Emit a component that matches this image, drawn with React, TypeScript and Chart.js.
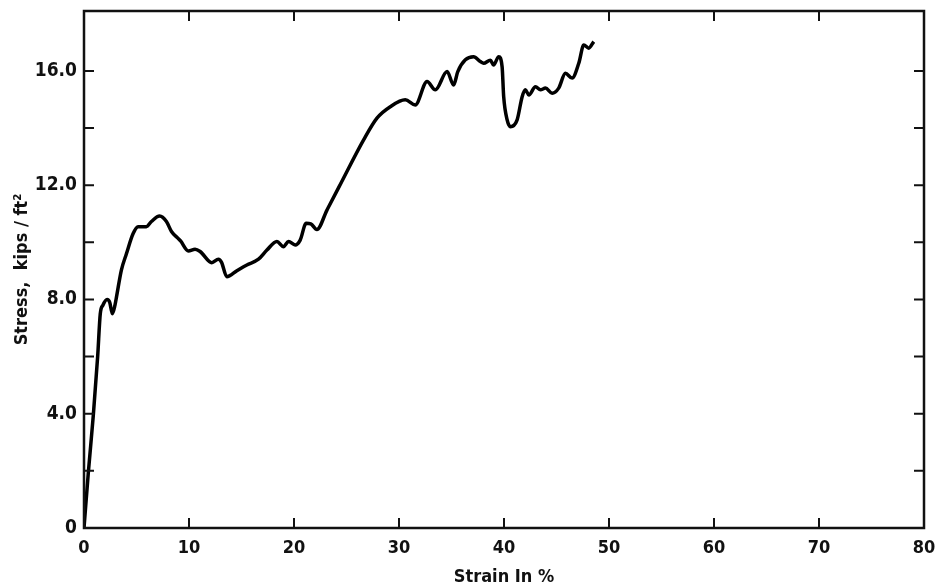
import React, { useEffect, useRef } from "react";
import { Chart, registerables } from "chart.js";

Chart.register(...registerables);

const strain = [0, 0.41, 0.89, 1.3, 1.55, 1.8, 2.2, 2.45, 2.7, 2.95, 3.1, 3.56, 4.04, 4.67, 5.15, 5.94, 6.42, 7.2, 7.85, 8.33, 8.96, 9.2, 9.94, 10.58, 11.06, 12.17, 12.8, 13.1, 13.6, 14.56, 15.51, 16.62, 17.42, 18.37, 19.0, 19.48, 20.11, 20.59, 21.16, 21.6, 22.18, 23.14, 24.3, 26.63, 27.9, 29.17, 30.6, 31.55, 32.67, 33.46, 34.58, 35.2, 35.6, 36.32, 37.1, 37.75, 38.06, 38.7, 39.0, 39.5, 39.82, 39.97, 40.3, 40.61, 41.25, 41.73, 42.04, 42.36, 43.0, 43.47, 43.95, 44.58, 45.21, 45.85, 46.49, 47.12, 47.6, 48.07, 48.55];
const stress = [0, 1.93, 3.96, 6.0, 7.5, 7.8, 8.0, 7.9, 7.5, 7.8, 8.1, 9.03, 9.6, 10.3, 10.55, 10.55, 10.73, 10.92, 10.73, 10.38, 10.14, 10.05, 9.7, 9.76, 9.68, 9.29, 9.41, 9.3, 8.8, 9.01, 9.21, 9.41, 9.73, 10.03, 9.85, 10.03, 9.91, 10.08, 10.67, 10.65, 10.45, 11.13, 11.95, 13.59, 14.35, 14.75, 14.99, 14.81, 15.63, 15.34, 15.98, 15.51, 15.98, 16.39, 16.5, 16.33, 16.27, 16.38, 16.21, 16.5, 16.15, 15.1, 14.29, 14.05, 14.29, 15.1, 15.34, 15.16, 15.45, 15.34, 15.4, 15.22, 15.4, 15.92, 15.75, 16.27, 16.91, 16.8, 17.03];

const xTickValues = [0, 10, 20, 30, 40, 50, 60, 70, 80];
const xTickLabels = ["0", "10", "20", "30", "40", "50", "60", "70", "80"];
const yTickValues = [0, 4, 8, 12, 16];
const yTickLabels = ["0", "4.0", "8.0", "12.0", "16.0"];
const yMinorTicks = [2, 4, 6, 8, 10, 12, 14, 16];

const FONT = "'DejaVu Sans Condensed', 'Liberation Sans Narrow', sans-serif";

const framePlugin = {
  id: "frame",
  afterDraw(chart: any) {
    const { ctx, chartArea } = chart;
    const xs = chart.scales.x;
    const ys = chart.scales.y;
    const { left, right, top, bottom } = chartArea;
    ctx.save();
    ctx.strokeStyle = "#111";
    ctx.lineWidth = 2.5;
    ctx.strokeRect(left, top, right - left, bottom - top);
    ctx.lineWidth = 2;
    const len = 10;
    ctx.beginPath();
    for (const v of xTickValues) {
      if (v === 0 || v === 80) continue;
      const px = xs.getPixelForValue(v);
      ctx.moveTo(px, bottom);
      ctx.lineTo(px, bottom - len);
      ctx.moveTo(px, top);
      ctx.lineTo(px, top + len);
    }
    for (const v of yMinorTicks) {
      const py = ys.getPixelForValue(v);
      ctx.moveTo(left, py);
      ctx.lineTo(left + len, py);
      ctx.moveTo(right, py);
      ctx.lineTo(right - len, py);
    }
    ctx.stroke();
    ctx.restore();
  },
};

export default function App() {
  const ref = useRef<HTMLCanvasElement>(null);
  useEffect(() => {
    if (!ref.current) return;
    const chart = new Chart(ref.current, {
      type: "line",
      data: {
        datasets: [
          {
            data: strain.map((x, i) => ({ x, y: stress[i] })),
            borderColor: "#000",
            borderWidth: 3.5,
            pointRadius: 0,
            cubicInterpolationMode: "monotone",
            fill: false,
          },
        ],
      },
      options: {
        animation: false,
        responsive: true,
        maintainAspectRatio: false,
        layout: { padding: { left: 0, top: 11, right: 13, bottom: 0 } },
        plugins: { legend: { display: false }, tooltip: { enabled: false } },
        scales: {
          x: {
            type: "linear",
            min: 0,
            max: 80,
            grid: { display: false, drawTicks: false },
            border: { display: false },
            afterBuildTicks: (s: any) => {
              s.ticks = xTickValues.map((v) => ({ value: v }));
            },
            afterFit: (s: any) => {
              s.height = 60;
              s.paddingLeft = 0;
              s.paddingRight = 0;
              s.paddingTop = 0;
              s.paddingBottom = 0;
            },
            ticks: {
              padding: 10,
              maxRotation: 0,
              autoSkip: false,
              color: "#111",
              font: { family: FONT, size: 18, weight: "bold" },
              callback: (v: any) => {
                const i = xTickValues.indexOf(Number(v));
                return i >= 0 ? xTickLabels[i] : "";
              },
            },
            title: {
              display: true,
              text: "Strain In %",
              color: "#111",
              padding: { top: 0, bottom: 0 },
              font: { family: FONT, size: 18, weight: "bold" },
            },
          },
          y: {
            type: "linear",
            min: 0,
            max: 18.1,
            grid: { display: false, drawTicks: false },
            border: { display: false },
            afterBuildTicks: (s: any) => {
              s.ticks = yTickValues.map((v) => ({ value: v }));
            },
            afterFit: (s: any) => {
              s.width = 84;
              s.paddingLeft = 0;
              s.paddingRight = 0;
              s.paddingTop = 0;
              s.paddingBottom = 0;
            },
            ticks: {
              padding: 7,
              autoSkip: false,
              color: "#111",
              font: { family: FONT, size: 19, weight: "bold" },
              callback: (v: any) => {
                const i = yTickValues.indexOf(Number(v));
                return i >= 0 ? yTickLabels[i] : "";
              },
            },
            title: {
              display: true,
              text: "Stress,  kips / ft²",
              color: "#111",
              padding: { top: 12, bottom: 0 },
              font: { family: FONT, size: 18, weight: "bold" },
            },
          },
        },
      },
      plugins: [framePlugin],
    });
    return () => chart.destroy();
  }, []);
  return (
    <div style={{ position: "fixed", left: 0, top: 0, width: 937, height: 588, background: "#fff" }}>
      <canvas ref={ref} />
    </div>
  );
}
